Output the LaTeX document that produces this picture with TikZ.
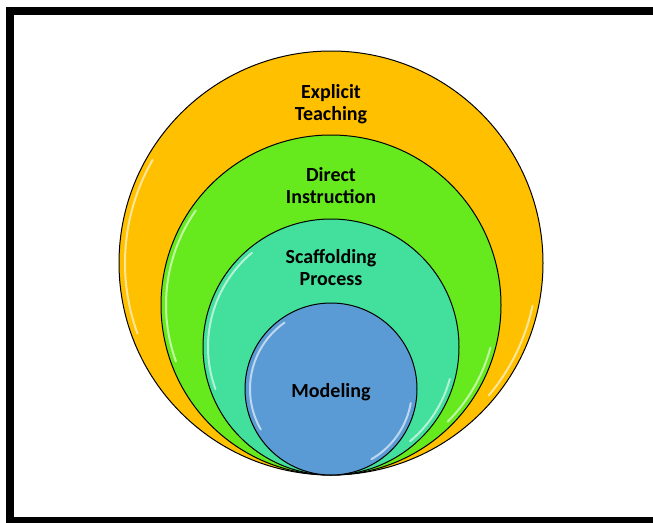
\documentclass[tikz,border=0pt]{standalone}
\usepackage{fontspec}
\setmainfont{Carlito}
\usepackage{tikz}
\usetikzlibrary{
        backgrounds,
        positioning,
        shapes
    }
\definecolor{gold}{HTML}{FFC000}
\definecolor{lime}{HTML}{66EA1E}
\definecolor{mint}{HTML}{42E09C}
\definecolor{sky}{HTML}{5B9BD5}
\tikzset{ring/.style={circle,draw=black,line width=1pt,inner sep=0pt}}
\tikzset{lbl/.style={font=\bfseries\fontsize{20}{22}\selectfont,align=center,inner sep=0pt}}
\tikzset{gloss/.style={white,line width=2pt,opacity=0.6,line cap=round}}

\begin{document}
\begin{tikzpicture}[x=1pt,y=-1pt]
        \useasboundingbox (0,0) rectangle (653,522);
        \draw[line width=8pt] (10,11) rectangle (665,521);
        % nested circles, all touching at the bottom (y runs down, so angles are mirrored)
        \node[ring,fill=gold,minimum size=424pt] (explicit) at (331,263) {};
        \draw[gloss] (331,263) ++(-150:206) arc[start angle=-150,end angle=-200,radius=206];
        \draw[gloss] (331,263) ++(12:206) arc[start angle=12,end angle=40,radius=206];
        \node[ring,fill=lime,minimum size=340pt] (direct) at (331,305) {};
        \draw[gloss] (331,305) ++(-145:165) arc[start angle=-145,end angle=-200,radius=165];
        \draw[gloss] (331,305) ++(15:165) arc[start angle=15,end angle=45,radius=165];
        \node[ring,fill=mint,minimum size=256pt] (scaffold) at (331,347) {};
        \draw[gloss] (331,347) ++(-130:123) arc[start angle=-130,end angle=-200,radius=123];
        \draw[gloss] (331,347) ++(15:123) arc[start angle=15,end angle=50,radius=123];
        \node[ring,fill=sky,minimum size=172pt] (model) at (331,389) {};
        \draw[gloss] (331,389) ++(-125:81) arc[start angle=-125,end angle=-210,radius=81];
        \draw[gloss] (331,389) ++(10:81) arc[start angle=10,end angle=60,radius=81];
        % labels
        \node[lbl] (explicitT) [below=34pt of explicit.north] {Explicit\\Teaching};
        \node[lbl] (directT) [below=33pt of direct.north] {Direct\\Instruction};
        \node[lbl] (scaffoldT) [below=31pt of scaffold.north] {Scaffolding\\Process};
        \node[lbl] (modelT) at (331,392) {Modeling};
    \end{tikzpicture}
\end{document}
